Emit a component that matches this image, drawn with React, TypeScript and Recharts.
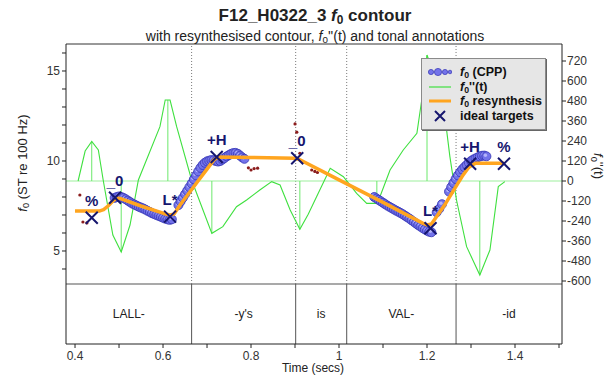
import React from "react";
import {
  ComposedChart,
  Line,
  Scatter,
  XAxis,
  YAxis,
  ReferenceLine,
  ReferenceArea,
} from "recharts";

const FONT = '"Liberation Sans", Arial, sans-serif';

// axis ranges (time in s, f0 in semitones re 100 Hz, f0'' on the right)
const T_MIN = 0.3795;
const T_MAX = 1.5068;
const ST_MIN = -0.1667;
const ST_MAX = 16.5;
const TIER_TOP = 3.1667; // bottom of the f0 panel / top of the text tier
const D2_MIN = -978;
const D2_MAX = 822;

const timeTicks = [0.4, 0.5, 0.6, 0.7, 0.8, 0.9, 1.0, 1.1, 1.2, 1.3, 1.4, 1.5];
const stTicks = [4, 5, 6, 7, 8, 9, 10, 11, 12, 13, 14, 15, 16];
const d2Ticks = [-600, -480, -360, -240, -120, 0, 120, 240, 360, 480, 600, 720];

// word tier
const words = ["LALL-", "-y's", "is", "VAL-", "-id"];
const wordBounds = [0.665, 0.9015, 1.0175, 1.266];

// f0 (CPP) voiced stretches
const cppLall = [
  { t: 0.49, v: 7.95 }, { t: 0.495, v: 8.0 }, { t: 0.5, v: 8.03 }, { t: 0.505, v: 8.0 },
  { t: 0.51, v: 7.95 }, { t: 0.515, v: 7.88 }, { t: 0.52, v: 7.8 }, { t: 0.525, v: 7.72 },
  { t: 0.53, v: 7.64 }, { t: 0.535, v: 7.58 }, { t: 0.54, v: 7.52 }, { t: 0.545, v: 7.46 },
  { t: 0.55, v: 7.41 }, { t: 0.555, v: 7.36 }, { t: 0.56, v: 7.3 }, { t: 0.565, v: 7.23 },
  { t: 0.57, v: 7.17 }, { t: 0.575, v: 7.1 }, { t: 0.58, v: 7.05 }, { t: 0.585, v: 7.0 },
  { t: 0.59, v: 6.95 }, { t: 0.595, v: 6.9 }, { t: 0.6, v: 6.85 }, { t: 0.605, v: 6.8 },
  { t: 0.61, v: 6.76 }, { t: 0.615, v: 6.73 }, { t: 0.62, v: 6.76 },
];
const cppYs = [
  { t: 0.635, v: 7.55 }, { t: 0.64, v: 7.75 }, { t: 0.645, v: 7.95 }, { t: 0.65, v: 8.15 },
  { t: 0.655, v: 8.35 }, { t: 0.66, v: 8.55 }, { t: 0.665, v: 8.75 }, { t: 0.67, v: 8.98 },
  { t: 0.675, v: 9.2 }, { t: 0.68, v: 9.42 }, { t: 0.685, v: 9.62 }, { t: 0.69, v: 9.78 },
  { t: 0.695, v: 9.9 }, { t: 0.7, v: 9.98 }, { t: 0.705, v: 10.02 }, { t: 0.71, v: 10.05 },
  { t: 0.715, v: 10.04 }, { t: 0.72, v: 10.0 }, { t: 0.725, v: 9.97 }, { t: 0.73, v: 10.0 },
  { t: 0.735, v: 10.08 }, { t: 0.74, v: 10.17 }, { t: 0.745, v: 10.26 }, { t: 0.75, v: 10.33 },
  { t: 0.755, v: 10.4 }, { t: 0.76, v: 10.44 }, { t: 0.765, v: 10.45 }, { t: 0.77, v: 10.4 },
  { t: 0.775, v: 10.3 }, { t: 0.78, v: 10.2 }, { t: 0.785, v: 10.12 },
];
const cppVal = [
  { t: 1.08, v: 8.0 }, { t: 1.085, v: 7.92 }, { t: 1.09, v: 7.84 }, { t: 1.095, v: 7.76 },
  { t: 1.1, v: 7.68 }, { t: 1.105, v: 7.6 }, { t: 1.11, v: 7.52 }, { t: 1.115, v: 7.45 },
  { t: 1.12, v: 7.38 }, { t: 1.125, v: 7.31 }, { t: 1.13, v: 7.24 }, { t: 1.135, v: 7.18 },
  { t: 1.14, v: 7.11 }, { t: 1.145, v: 7.04 }, { t: 1.15, v: 6.96 }, { t: 1.155, v: 6.88 },
  { t: 1.16, v: 6.8 }, { t: 1.165, v: 6.71 }, { t: 1.17, v: 6.62 }, { t: 1.175, v: 6.53 },
  { t: 1.18, v: 6.44 }, { t: 1.185, v: 6.36 }, { t: 1.19, v: 6.28 }, { t: 1.195, v: 6.2 },
  { t: 1.2, v: 6.13 }, { t: 1.205, v: 6.07 }, { t: 1.21, v: 6.04 },
];
const cppId = [
  { t: 1.222, v: 7.15 }, { t: 1.228, v: 7.35 }, { t: 1.234, v: 7.6 },
  { t: 1.25, v: 8.3 }, { t: 1.255, v: 8.55 }, { t: 1.26, v: 8.78 }, { t: 1.265, v: 9.0 },
  { t: 1.27, v: 9.2 }, { t: 1.275, v: 9.38 }, { t: 1.28, v: 9.53 }, { t: 1.285, v: 9.66 },
  { t: 1.29, v: 9.78 }, { t: 1.295, v: 9.9 }, { t: 1.3, v: 10.0 }, { t: 1.305, v: 10.08 },
  { t: 1.31, v: 10.14 }, { t: 1.315, v: 10.2 }, { t: 1.32, v: 10.25 }, { t: 1.325, v: 10.29 },
  { t: 1.33, v: 10.3 }, { t: 1.335, v: 10.26 },
];
const cpp = [...cppLall, ...cppYs, ...cppVal, ...cppId];

// stray f0 points
const strayF0 = [
  { t: 0.411, v: 8.11 }, { t: 0.418, v: 6.61 }, { t: 0.427, v: 6.56 },
  { t: 0.794, v: 9.62 }, { t: 0.8, v: 9.5 }, { t: 0.807, v: 9.58 }, { t: 0.815, v: 9.6 },
  { t: 0.9, v: 12.06 }, { t: 0.904, v: 11.6 }, { t: 0.911, v: 10.43 },
  { t: 0.938, v: 9.5 }, { t: 0.945, v: 9.42 }, { t: 0.951, v: 9.36 },
];

// f0 resynthesis
const resynth = [
  { t: 0.4, v: 7.22 }, { t: 0.455, v: 7.22 }, { t: 0.465, v: 7.3 }, { t: 0.475, v: 7.5 },
  { t: 0.485, v: 7.75 }, { t: 0.495, v: 7.95 }, { t: 0.505, v: 7.9 }, { t: 0.55, v: 7.5 },
  { t: 0.6, v: 7.1 }, { t: 0.615, v: 7.0 }, { t: 0.625, v: 7.05 }, { t: 0.64, v: 7.6 },
  { t: 0.66, v: 8.25 }, { t: 0.68, v: 8.9 }, { t: 0.7, v: 9.55 }, { t: 0.715, v: 10.05 },
  { t: 0.725, v: 10.22 }, { t: 0.8, v: 10.2 }, { t: 0.9, v: 10.15 }, { t: 0.91, v: 10.08 },
  { t: 1.0, v: 8.95 }, { t: 1.1, v: 7.7 }, { t: 1.19, v: 6.55 }, { t: 1.2, v: 6.45 },
  { t: 1.21, v: 6.5 }, { t: 1.22, v: 6.85 }, { t: 1.24, v: 7.55 }, { t: 1.26, v: 8.35 },
  { t: 1.28, v: 9.15 }, { t: 1.295, v: 9.65 }, { t: 1.31, v: 9.88 }, { t: 1.375, v: 9.88 },
];

// f0''(t)
const d2 = [
  { t: 0.407, v: 0 }, { t: 0.423, v: 180 }, { t: 0.438, v: 237 }, { t: 0.453, v: 186 },
  { t: 0.464, v: 6 }, { t: 0.486, v: -324 }, { t: 0.505, v: -426 }, { t: 0.525, v: -264 },
  { t: 0.544, v: 6 }, { t: 0.593, v: 326 }, { t: 0.605, v: 486 }, { t: 0.616, v: 486 },
  { t: 0.631, v: 326 }, { t: 0.665, v: 6 }, { t: 0.711, v: -314 }, { t: 0.736, v: -274 },
  { t: 0.767, v: -154 }, { t: 0.79, v: -114 }, { t: 0.82, v: -54 }, { t: 0.847, v: -4 },
  { t: 0.866, v: -24 }, { t: 0.889, v: -174 }, { t: 0.911, v: -290 }, { t: 0.93, v: -200 },
  { t: 0.949, v: -94 }, { t: 0.98, v: 76 }, { t: 1.01, v: 26 }, { t: 1.04, v: -74 },
  { t: 1.063, v: -134 }, { t: 1.086, v: -134 }, { t: 1.093, v: -94 }, { t: 1.116, v: 66 },
  { t: 1.146, v: 186 }, { t: 1.177, v: 286 }, { t: 1.188, v: 486 }, { t: 1.2, v: 756 },
  { t: 1.236, v: 486 }, { t: 1.252, v: 146 }, { t: 1.267, v: -114 }, { t: 1.29, v: -394 },
  { t: 1.32, v: -564 }, { t: 1.343, v: -414 }, { t: 1.362, v: -34 }, { t: 1.377, v: -4 },
];
const d2Stems = [
  { t: 0.438, v: 237 }, { t: 0.505, v: -426 }, { t: 0.611, v: 486 }, { t: 0.711, v: -314 },
  { t: 0.911, v: -290 }, { t: 1.086, v: -134 }, { t: 1.2, v: 756 }, { t: 1.32, v: -564 },
];

// ideal tonal targets
const targets = [
  { t: 0.438, v: 6.85, tone: "%" },
  { t: 0.491, v: 7.96, tone: "_0" },
  { t: 0.616, v: 6.91, tone: "L*" },
  { t: 0.722, v: 10.22, tone: "+H" },
  { t: 0.905, v: 10.15, tone: "_0" },
  { t: 1.208, v: 6.26, tone: "L*" },
  { t: 1.298, v: 9.85, tone: "+H" },
  { t: 1.375, v: 9.85, tone: "%" },
];

const legendItems = ["f0 (CPP)", "f0''(t)", "f0 resynthesis", "ideal targets"];

const NAVY = "#16166e";
const GREEN = "#3fe03f";
const ORANGE = "#ffa51f";

function CppDot(p: any) {
  if (p.cx == null) return <g />;
  return (
    <g>
      <circle cx={p.cx} cy={p.cy} r={4.5} fill="#7373ea" stroke="#3434b4" strokeWidth={0.8} />
      <circle cx={p.cx - 1} cy={p.cy - 1} r={1.7} fill="#b4b4fa" />
    </g>
  );
}

function StrayDot(p: any) {
  if (p.cx == null) return <g />;
  return <circle cx={p.cx} cy={p.cy} r={1.6} fill="#8b1c1c" />;
}

function Target(p: any) {
  if (p.cx == null) return <g />;
  const { cx, cy, payload } = p;
  const s = 6;
  const tone: string = payload.tone;
  return (
    <g>
      <path
        d={`M${cx - s},${cy - s}L${cx + s},${cy + s}M${cx - s},${cy + s}L${cx + s},${cy - s}`}
        stroke={NAVY}
        strokeWidth={2}
      />
      <text x={cx} y={cy - 12} textAnchor="middle" fontSize={15} fontWeight="bold" fill={NAVY}>
        {tone.startsWith("_") ? (
          <>
            <tspan fontWeight="normal" fill="#6a6aa8">_</tspan>
            <tspan>{tone.slice(1)}</tspan>
          </>
        ) : (
          tone
        )}
      </text>
    </g>
  );
}

const F0 = () => (
  <>
    <i>f</i>
    <span style={{ fontSize: "0.7em", verticalAlign: "-0.25em", lineHeight: 0 }}>0</span>
  </>
);

function LegendIcon({ i }: { i: number }) {
  if (i === 0)
    return (
      <svg width={24} height={12}>
        <circle cx={3} cy={6} r={2.6} fill="#7373ea" stroke="#3434b4" strokeWidth={0.7} />
        <circle cx={10} cy={6} r={3.6} fill="#7373ea" stroke="#3434b4" strokeWidth={0.7} />
        <circle cx={17} cy={6} r={2.6} fill="#7373ea" stroke="#3434b4" strokeWidth={0.7} />
        <circle cx={22} cy={6} r={1.8} fill="#7373ea" stroke="#3434b4" strokeWidth={0.7} />
      </svg>
    );
  if (i === 1)
    return (
      <svg width={24} height={12}>
        <line x1={1} y1={6} x2={23} y2={6} stroke={GREEN} strokeWidth={1.2} />
      </svg>
    );
  if (i === 2)
    return (
      <svg width={24} height={12}>
        <line x1={1} y1={6} x2={23} y2={6} stroke={ORANGE} strokeWidth={3} />
      </svg>
    );
  return (
    <svg width={24} height={12}>
      <path d="M7,1L17,11M7,11L17,1" stroke={NAVY} strokeWidth={2} />
    </svg>
  );
}

function legendText(s: string) {
  if (s.startsWith("f0")) {
    return (
      <>
        <F0 />
        {s.slice(2)}
      </>
    );
  }
  return s;
}

export default function App() {
  return (
    <div
      style={{
        position: "absolute",
        left: 0,
        top: 0,
        width: 614,
        height: 376,
        fontFamily: FONT,
        color: "#222",
        background: "#fff",
      }}
    >
      <div
        style={{
          position: "absolute",
          left: 315,
          top: 6,
          transform: "translateX(-50%)",
          whiteSpace: "nowrap",
          fontSize: 17,
          fontWeight: "bold",
          lineHeight: "19px",
        }}
      >
        F12_H0322_3 <F0 /> contour
      </div>
      <div
        style={{
          position: "absolute",
          left: 315,
          top: 29,
          transform: "translateX(-50%)",
          whiteSpace: "nowrap",
          fontSize: 14,
          lineHeight: "15px",
        }}
      >
        with resynthesised contour, <F0 />''(t) and tonal annotations
      </div>

      <ComposedChart
        width={614}
        height={376}
        margin={{ top: 44, right: 20, bottom: 12, left: 36 }}
        style={{ position: "absolute", left: 0, top: 0 }}
      >
        <XAxis
          type="number"
          dataKey="t"
          domain={[T_MIN, T_MAX]}
          allowDataOverflow
          ticks={timeTicks}
          interval={0}
          height={20}
          tickSize={4}
          tickMargin={3}
          stroke="#222"
          tick={{ fontSize: 12, fill: "#333" }}
          tickFormatter={(v: number) =>
            Math.round(v * 10) % 2 === 0 ? String(Number(v.toFixed(1))) : ""
          }
        />
        <YAxis
          yAxisId="st"
          type="number"
          dataKey="v"
          domain={[ST_MIN, ST_MAX]}
          allowDataOverflow
          ticks={stTicks}
          interval={0}
          width={30}
          tickSize={4}
          tickMargin={2}
          stroke="#222"
          tick={{ fontSize: 12, fill: "#333" }}
          tickFormatter={(v: number) => (v % 5 === 0 ? String(v) : "")}
        />
        <YAxis
          yAxisId="d2"
          orientation="right"
          type="number"
          dataKey="v"
          domain={[D2_MIN, D2_MAX]}
          allowDataOverflow
          ticks={d2Ticks}
          interval={0}
          width={32}
          tickSize={4}
          tickMargin={1}
          stroke="#222"
          tick={{ fontSize: 12, fill: "#333" }}
        />

        {/* frame: top border and panel separator */}
        <ReferenceLine yAxisId="st" y={ST_MAX} stroke="#333" strokeWidth={1} />
        <ReferenceLine yAxisId="st" y={TIER_TOP} stroke="#555" strokeWidth={1.2} />

        {/* word boundaries: dotted above, solid in the tier */}
        {wordBounds.map((b) => (
          <ReferenceLine
            key={`d${b}`}
            yAxisId="st"
            segment={[{ x: b, y: TIER_TOP }, { x: b, y: ST_MAX }]}
            stroke="#777"
            strokeDasharray="1 2"
          />
        ))}
        {wordBounds.map((b) => (
          <ReferenceLine
            key={`s${b}`}
            yAxisId="st"
            segment={[{ x: b, y: ST_MIN }, { x: b, y: TIER_TOP }]}
            stroke="#555"
          />
        ))}
        {words.map((w, i) => (
          <ReferenceArea
            key={w}
            yAxisId="st"
            x1={i === 0 ? T_MIN : wordBounds[i - 1]}
            x2={i === words.length - 1 ? T_MAX : wordBounds[i]}
            y1={ST_MIN}
            y2={TIER_TOP}
            fill="#fff"
            fillOpacity={0}
            stroke="none"
            label={{ value: w, position: "center", fontSize: 12, fill: "#222" }}
          />
        ))}

        {/* f0'' with zero line and stems */}
        <ReferenceLine yAxisId="d2" y={0} stroke="#9ef09e" strokeWidth={1.2} />
        {d2Stems.map((s) => (
          <ReferenceLine
            key={`st${s.t}`}
            yAxisId="d2"
            segment={[{ x: s.t, y: 0 }, { x: s.t, y: s.v }]}
            stroke="#6be86b"
          />
        ))}
        <Line
          yAxisId="d2"
          data={d2}
          dataKey="v"
          type="linear"
          stroke={GREEN}
          strokeWidth={1.1}
          dot={false}
          isAnimationActive={false}
        />

        <Scatter yAxisId="st" data={strayF0} shape={StrayDot} isAnimationActive={false} />
        <Scatter yAxisId="st" data={cpp} shape={CppDot} isAnimationActive={false} />
        <Scatter
          yAxisId="st"
          data={resynth}
          line={{ stroke: ORANGE, strokeWidth: 3.5, strokeLinejoin: "round" }}
          lineType="joint"
          shape={() => <g />}
          isAnimationActive={false}
        />
        <Scatter yAxisId="st" data={targets} shape={Target} isAnimationActive={false} />
      </ComposedChart>

      {/* axis titles */}
      <div
        style={{
          position: "absolute",
          left: 22,
          top: 163,
          transform: "translate(-50%, -50%) rotate(-90deg)",
          whiteSpace: "nowrap",
          fontSize: 13,
        }}
      >
        <F0 /> (ST re 100 Hz)
      </div>
      <div
        style={{
          position: "absolute",
          left: 598,
          top: 166,
          transform: "translate(-50%, -50%) rotate(90deg)",
          whiteSpace: "nowrap",
          fontSize: 13,
        }}
      >
        <F0 />''(t)
      </div>
      <div
        style={{
          position: "absolute",
          left: 313,
          top: 362,
          transform: "translateX(-50%)",
          whiteSpace: "nowrap",
          fontSize: 12,
          lineHeight: "13px",
        }}
      >
        Time (secs)
      </div>

      {/* legend */}
      <div
        style={{
          position: "absolute",
          left: 421,
          top: 58,
          width: 125,
          height: 72,
          background: "#e6e6e6",
          border: "1px solid #8a8a8a",
          boxShadow: "1px 1px 0 #666",
          boxSizing: "border-box",
          padding: "6px 0 0 6px",
          fontSize: 12.5,
          fontWeight: "bold",
          color: "#111",
        }}
      >
        {legendItems.map((s, i) => (
          <div key={s} style={{ display: "flex", alignItems: "center", height: 14.5 }}>
            <LegendIcon i={i} />
            <span style={{ marginLeft: 8, whiteSpace: "nowrap" }}>{legendText(s)}</span>
          </div>
        ))}
      </div>
    </div>
  );
}
